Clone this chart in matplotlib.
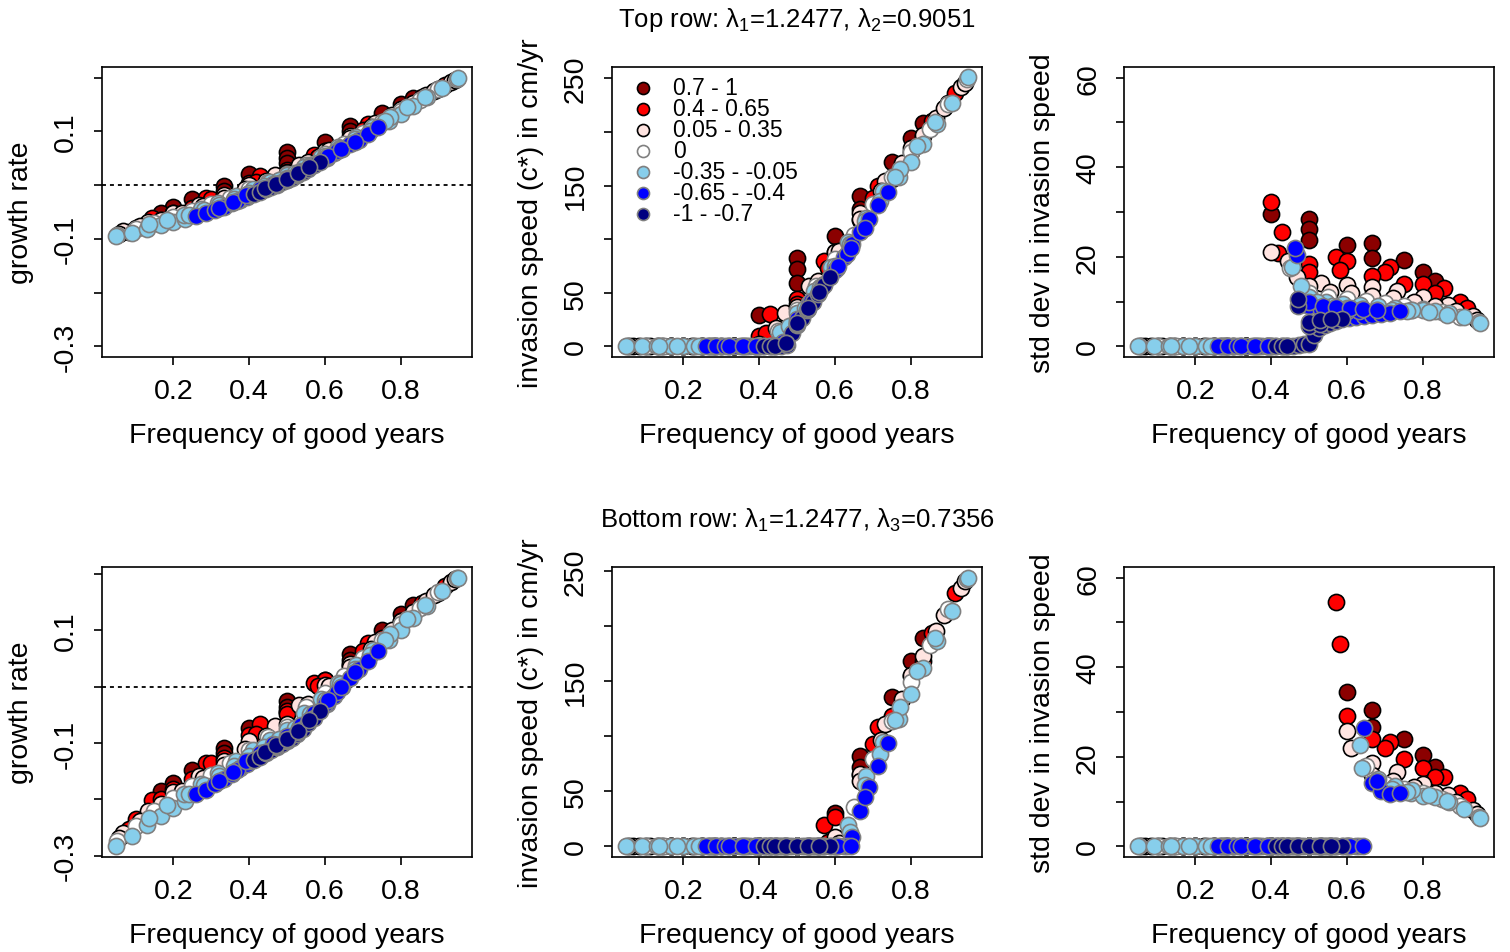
import matplotlib
matplotlib.use('Agg')
import matplotlib.pyplot as plt

plt.rcParams['font.family'] = ['Liberation Sans', 'DejaVu Sans']
plt.rcParams['mathtext.fontset'] = 'custom'
plt.rcParams['mathtext.rm'] = 'Liberation Sans'
plt.rcParams['mathtext.it'] = 'Liberation Sans:italic'

# each group: frequency of good years, then growth rate / speed / sd for top row (1) and bottom row (2)

# correlation 0.7 - 1
x_dr = [0.5, 0.333, 0.667, 0.25, 0.5, 0.75, 0.2, 0.4, 0.6, 0.8, 0.167, 0.333, 0.5, 0.667, 0.833]
gr1_dr = [0.062, -0.001, 0.110, -0.026, 0.051, 0.135, -0.040, 0.020, 0.081, 0.151, -0.051, -0.010, 0.041, 0.100, 0.163]
sp1_dr = [82, 0, 140, 0, 72, 172, 0, 29, 103, 194, 0, 0, 59, 128, 208]
sd1_dr = [28.5, 0, 23.0, 0, 26.3, 19.2, 0, 29.5, 22.6, 16.6, 0, 0, 23.7, 19.8, 14.6]
gr2_dr = [-0.026, -0.109, 0.057, -0.147, -0.036, 0.101, -0.171, -0.073, 0.012, 0.128, -0.185, -0.118, -0.045, 0.048, 0.145]
sp2_dr = [0, 0, 82, 0, 0, 136, 0, 0, 30, 168, 0, 0, 0, 72, 189]
sd2_dr = [0, 0, 30.4, 0, 0, 23.9, 0, 0, 34.5, 20.4, 0, 0, 0, 26.7, 17.7]

# correlation 0.4 - 0.65
x_rd = [0.143, 0.286, 0.429, 0.571, 0.714, 0.857,
        0.1, 0.2, 0.3, 0.4, 0.5, 0.6, 0.7, 0.8, 0.9,
        0.083, 0.167, 0.25, 0.333, 0.417, 0.5, 0.583, 0.667, 0.75, 0.833, 0.917]
gr1_rd = [-0.061, -0.024, 0.017, 0.057, 0.113, 0.164,
          -0.079, -0.051, -0.025, 0.004, 0.028, 0.064, 0.103, 0.139, 0.179,
          -0.087, -0.064, -0.042, -0.020, 0.005, 0.024, 0.052, 0.087, 0.117, 0.152, 0.186]
sp1_rd = [0, 0, 30, 80, 150, 210,
          0, 0, 0, 10, 44, 88, 138, 181, 227,
          0, 0, 0, 0, 12, 39, 73, 118, 156, 196, 236]
sd1_rd = [0, 0, 25.5, 20.0, 17.6, 13.1,
          0, 0, 0, 32.2, 18.3, 19.0, 16.5, 14.0, 9.8,
          0, 0, 0, 0, 20.8, 16.5, 17.0, 15.8, 14.0, 11.8, 8.5]
gr2_rd = [-0.201, -0.136, -0.067, 0.007, 0.077, 0.149,
          -0.235, -0.181, -0.136, -0.086, -0.043, 0.012, 0.063, 0.116, 0.166,
          -0.252, -0.200, -0.163, -0.127, -0.084, -0.048, 0.001, 0.039, 0.086, 0.127, 0.178]
sp2_rd = [0, 0, 0, 19, 108, 194,
          0, 0, 0, 0, 0, 27, 93, 155, 214,
          0, 0, 0, 0, 0, 0, 4, 65, 118, 168, 230]
sd2_rd = [0, 0, 0, 54.6, 23.2, 15.5,
          0, 0, 0, 0, 0, 29.1, 22.0, 17.5, 12.0,
          0, 0, 0, 0, 0, 0, 45.3, 24.0, 19.5, 15.5, 10.5]

# correlation 0.05 - 0.35
x_mr = [0.067, 0.133, 0.2, 0.267, 0.333, 0.4, 0.467, 0.533, 0.6, 0.667, 0.733, 0.8, 0.867, 0.933,
        0.056, 0.111, 0.167, 0.222, 0.278, 0.333, 0.389, 0.444, 0.5, 0.556, 0.611, 0.667, 0.722, 0.778, 0.833, 0.889, 0.944]
gr1_mr = [-0.086, -0.068, -0.052, -0.037, -0.019, 0.001, 0.018, 0.038, 0.064, 0.091, 0.115, 0.142, 0.167, 0.192,
          -0.091, -0.076, -0.064, -0.052, -0.039, -0.024, -0.008, 0.008, 0.023, 0.043, 0.065, 0.088, 0.109, 0.131, 0.153, 0.175, 0.196]
sp1_mr = [0, 0, 0, 0, 0, 2, 31, 56, 88, 124, 154, 185, 213, 242,
          0, 0, 0, 0, 0, 0, 0, 17, 37, 61, 89, 119, 145, 171, 197, 222, 246]
sd1_mr = [0, 0, 0, 0, 0, 21.1, 15.5, 14.2, 13.8, 13.2, 12.3, 11.0, 9.3, 6.8,
          0, 0, 0, 0, 0, 0, 0, 19.0, 13.5, 12.2, 11.8, 11.3, 10.7, 10.0, 9.0, 7.8, 5.9]
gr2_mr = [-0.259, -0.220, -0.187, -0.159, -0.131, -0.097, -0.069, -0.033, 0.002, 0.040, 0.079, 0.117, 0.151, 0.185,
          -0.269, -0.239, -0.208, -0.185, -0.162, -0.139, -0.111, -0.087, -0.066, -0.031, 0.001, 0.035, 0.067, 0.100, 0.132, 0.163, 0.190]
sp2_mr = [0, 0, 0, 0, 0, 0, 0, 0, 8, 66, 111, 156, 196, 235,
          0, 0, 0, 0, 0, 0, 0, 0, 0, 0, 3, 59, 97, 134, 173, 210, 241]
sd2_mr = [0, 0, 0, 0, 0, 0, 0, 0, 25.8, 18.5, 16.5, 14.0, 11.5, 8.0,
          0, 0, 0, 0, 0, 0, 0, 0, 0, 0, 22.0, 16.0, 14.5, 13.2, 11.8, 10.0, 7.2]

# correlation 0
x_wh = [0.05, 0.1, 0.15, 0.2, 0.25, 0.3, 0.35, 0.4, 0.45, 0.5, 0.55, 0.6, 0.65, 0.7, 0.75, 0.8, 0.85, 0.9, 0.95]
gr1_wh = [-0.092, -0.081, -0.070, -0.059, -0.048, -0.036, -0.023, -0.007, 0.006, 0.020, 0.038, 0.058, 0.077, 0.098, 0.118, 0.139, 0.158, 0.179, 0.198]
sp1_wh = [0, 0, 0, 0, 0, 0, 0, 0, 14, 34, 56, 81, 104, 133, 158, 181, 203, 226, 249]
sd1_wh = [0, 0, 0, 0, 0, 0, 0, 0, 17.5, 12.0, 11.0, 10.6, 10.2, 9.7, 9.1, 8.4, 7.6, 6.6, 5.4]
gr2_wh = [-0.274, -0.247, -0.220, -0.198, -0.177, -0.157, -0.135, -0.112, -0.090, -0.072, -0.037, -0.012, 0.019, 0.051, 0.082, 0.111, 0.139, 0.168, 0.192]
sp2_wh = [0, 0, 0, 0, 0, 0, 0, 0, 0, 0, 0, 0, 36, 79, 114, 149, 183, 216, 243]
sd2_wh = [0, 0, 0, 0, 0, 0, 0, 0, 0, 0, 0, 0, 18.0, 14.0, 12.8, 11.8, 10.6, 9.0, 6.6]

# correlation -0.35 - -0.05
x_sb = [0.048, 0.091, 0.130, 0.167, 0.2, 0.231, 0.769, 0.8, 0.833, 0.870, 0.909, 0.952,
        0.136, 0.182, 0.227, 0.273, 0.318, 0.364, 0.409, 0.455, 0.5, 0.545, 0.591, 0.636, 0.682, 0.727, 0.773, 0.818, 0.864,
        0.24, 0.28, 0.32, 0.36, 0.4, 0.44, 0.48, 0.52, 0.56, 0.6, 0.64, 0.68, 0.72, 0.76]
gr1_sb = [-0.094, -0.089, -0.081, -0.075, -0.069, -0.063, 0.119, 0.133, 0.147, 0.164, 0.181, 0.199,
          -0.073, -0.065, -0.055, -0.045, -0.034, -0.021, -0.007, 0.005, 0.018, 0.034, 0.052, 0.071, 0.089, 0.108, 0.126, 0.145, 0.164,
          -0.056, -0.047, -0.037, -0.026, -0.014, -0.002, 0.009, 0.022, 0.038, 0.054, 0.070, 0.086, 0.101, 0.119]
sp1_sb = [0, 0, 0, 0, 0, 0, 158, 172, 189, 207, 227, 251,
          0, 0, 0, 0, 0, 0, 0, 13, 31, 52, 74, 97, 120, 145, 165, 187, 209,
          0, 0, 0, 0, 0, 0, 19, 36, 55, 75, 95, 117, 136, 158]
sd1_sb = [0, 0, 0, 0, 0, 0, 8.1, 8.1, 7.9, 7.5, 6.6, 5.1,
          0, 0, 0, 0, 0, 0, 0, 17.6, 11.0, 9.8, 9.5, 9.2, 8.9, 8.6, 8.1, 7.6, 7.0,
          0, 0, 0, 0, 0, 0, 13.5, 10.0, 9.0, 8.6, 8.4, 8.2, 8.0, 7.8]
gr2_sb = [-0.283, -0.265, -0.246, -0.230, -0.216, -0.203, 0.083, 0.101, 0.122, 0.142, 0.169, 0.193,
          -0.232, -0.209, -0.190, -0.172, -0.154, -0.132, -0.113, -0.094, -0.077, -0.047, -0.022, 0.007, 0.038, 0.065, 0.094, 0.120, 0.144,
          -0.190, -0.175, -0.159, -0.140, -0.123, -0.107, -0.092, -0.073, -0.048, -0.023, 0.004, 0.032, 0.056, 0.083]
sp2_sb = [0, 0, 0, 0, 0, 0, 116, 138, 162, 187, 214, 244,
          0, 0, 0, 0, 0, 0, 0, 0, 0, 0, 0, 19, 64, 95, 127, 159, 189,
          0, 0, 0, 0, 0, 0, 0, 0, 0, 0, 13, 56, 84, 115]
sd2_sb = [0, 0, 0, 0, 0, 0, 12.0, 11.3, 11.0, 9.8, 8.3, 6.4,
          0, 0, 0, 0, 0, 0, 0, 0, 0, 0, 0, 22.6, 15.0, 13.5, 12.5, 11.5, 10.2,
          0, 0, 0, 0, 0, 0, 0, 0, 0, 0, 17.5, 14.0, 12.8, 12.2]

# correlation -0.65 - -0.4
x_bl = [0.259, 0.286, 0.310, 0.333, 0.355, 0.375, 0.394,
        0.606, 0.625, 0.645, 0.667, 0.690, 0.714, 0.741,
        0.367, 0.4, 0.433, 0.467, 0.5, 0.533, 0.567, 0.6, 0.633,
        0.321, 0.357, 0.393, 0.429, 0.464, 0.5, 0.536, 0.571, 0.607, 0.643, 0.679]
gr1_bl = [-0.058, -0.052, -0.046, -0.040, -0.034, -0.028, -0.022,
          0.051, 0.059, 0.067, 0.076, 0.085, 0.095, 0.108,
          -0.030, -0.018, -0.008, 0.002, 0.012, 0.025, 0.037, 0.050, 0.063,
          -0.042, -0.032, -0.019, -0.008, 0.002, 0.013, 0.027, 0.040, 0.054, 0.067, 0.081]
sp1_bl = [0, 0, 0, 0, 0, 0, 0,
          73, 83, 95, 107, 119, 132, 144,
          0, 0, 0, 4, 23, 40, 55, 71, 86,
          0, 0, 0, 0, 4, 25, 42, 58, 75, 92, 110]
sd1_bl = [0, 0, 0, 0, 0, 0, 0,
          6.3, 6.5, 6.8, 7.0, 7.3, 7.5, 7.9,
          0, 0, 0, 20.4, 9.0, 8.2, 8.0, 7.9, 7.8,
          0, 0, 0, 0, 21.9, 10.0, 9.0, 8.7, 8.5, 8.3, 8.0]
gr2_bl = [-0.191, -0.183, -0.173, -0.164, -0.155, -0.145, -0.137,
          -0.030, -0.016, -0.001, 0.016, 0.032, 0.045, 0.064,
          -0.147, -0.132, -0.118, -0.103, -0.091, -0.073, -0.053, -0.031, -0.009,
          -0.167, -0.151, -0.132, -0.117, -0.101, -0.088, -0.068, -0.047, -0.024, 0.000, 0.026]
sp2_bl = [0, 0, 0, 0, 0, 0, 0,
          0, 0, 8, 32, 54, 73, 94,
          0, 0, 0, 0, 0, 0, 0, 0, 0,
          0, 0, 0, 0, 0, 0, 0, 0, 0, 0, 45]
sd2_bl = [0, 0, 0, 0, 0, 0, 0,
          0, 0, 26.5, 14.2, 12.4, 11.6, 11.8,
          0, 0, 0, 0, 0, 0, 0, 0, 0,
          0, 0, 0, 0, 0, 0, 0, 0, 0, 0, 14.6]

# correlation -1 - -0.7
x_nv = [0.412, 0.429, 0.444, 0.459, 0.474, 0.487, 0.5,
        0.513, 0.526, 0.541, 0.556, 0.571, 0.588,
        0.472, 0.5, 0.528,
        0.441, 0.471, 0.5, 0.529, 0.559]
gr1_nv = [-0.017, -0.012, -0.007, -0.003, 0.001, 0.005, 0.009,
          0.014, 0.019, 0.025, 0.031, 0.037, 0.044,
          0.002, 0.010, 0.021,
          -0.006, 0.002, 0.011, 0.022, 0.033]
sp1_nv = [0, 0, 0, 0, 1.2, 12, 19.8,
          26.5, 33.5, 41, 49, 57, 65,
          3, 21, 35,
          0, 3.5, 21.5, 36, 51]
sd1_nv = [0, 0, 0, 0, 0.3, 0.4, 0.6,
          2.5, 4.0, 4.8, 5.3, 5.7, 6.0,
          9.0, 4.5, 5.0,
          0, 10.5, 5.5, 5.8, 6.2]
gr2_nv = [-0.130, -0.124, -0.118, -0.112, -0.107, -0.102, -0.097,
          -0.091, -0.084, -0.075, -0.065, -0.055, -0.043,
          -0.105, -0.095, -0.080,
          -0.116, -0.104, -0.093, -0.078, -0.059]
sp2_nv = [0, 0, 0, 0, 0, 0, 0, 0, 0, 0, 0, 0, 0, 0, 0, 0, 0, 0, 0, 0, 0]
sd2_nv = [0, 0, 0, 0, 0, 0, 0, 0, 0, 0, 0, 0, 0, 0, 0, 0, 0, 0, 0, 0, 0]

labels = ['0.7 - 1', '0.4 - 0.65', '0.05 - 0.35', '0', '-0.35 - -0.05', '-0.65 - -0.4', '-1 - -0.7']
fills = ['darkred', 'red', 'mistyrose', 'white', 'skyblue', 'blue', 'navy']
edges = ['black', 'black', 'black', 'gray', 'gray', 'gray', 'gray']

groups = [
    (x_dr, [gr1_dr, sp1_dr, sd1_dr, gr2_dr, sp2_dr, sd2_dr]),
    (x_rd, [gr1_rd, sp1_rd, sd1_rd, gr2_rd, sp2_rd, sd2_rd]),
    (x_mr, [gr1_mr, sp1_mr, sd1_mr, gr2_mr, sp2_mr, sd2_mr]),
    (x_wh, [gr1_wh, sp1_wh, sd1_wh, gr2_wh, sp2_wh, sd2_wh]),
    (x_sb, [gr1_sb, sp1_sb, sd1_sb, gr2_sb, sp2_sb, sd2_sb]),
    (x_bl, [gr1_bl, sp1_bl, sd1_bl, gr2_bl, sp2_bl, sd2_bl]),
    (x_nv, [gr1_nv, sp1_nv, sd1_nv, gr2_nv, sp2_nv, sd2_nv]),
]

ylabels = ['growth rate', 'invasion speed (c*) in cm/yr', 'std dev in invasion speed']
ylims = [(-0.32, 0.22), (-10.0, 260.6), (-2.4, 62.4), (-0.302, 0.212), (-9.76, 253.8), (-2.4, 62.4)]
yticks = [[-0.3, -0.2, -0.1, 0.0, 0.1, 0.2], [0, 50, 100, 150, 200, 250], [0, 10, 20, 30, 40, 50, 60]]
ytlabs = [['-0.3', '', '-0.1', '', '0.1', ''], ['0', '50', '', '150', '', '250'], ['0', '', '20', '', '40', '', '60']]

W, H = 1510, 953
fig = plt.figure(figsize=(W / 100, H / 100), dpi=100)
lefts = [102, 612, 1124]
bottoms = [358, 858]

for r in range(2):
    for c in range(3):
        k = 3 * r + c
        ax = fig.add_axes([lefts[c] / W, 1 - bottoms[r] / H, 370 / W, 290 / H])
        for (x, ys), fc, ec in zip(groups, fills, edges):
            ax.scatter(x, ys[k], s=135, c=fc, edgecolors=ec, linewidths=1.2, zorder=3)
        if c == 0:
            ax.axhline(0, color='black', lw=1.3, ls=(0, (2.2, 2.2)), zorder=1)
        ax.set_xlim(0.0114, 0.9886)
        ax.set_ylim(*ylims[k])
        ax.set_xticks([0.2, 0.4, 0.6, 0.8])
        ax.set_xticklabels(['0.2', '0.4', '0.6', '0.8'])
        ax.set_yticks(yticks[c])
        ax.set_yticklabels(ytlabs[c], rotation=90, va='center')
        ax.tick_params(labelsize=20.5, length=5.5, width=1.2)
        ax.tick_params(axis='x', pad=9.5)
        ax.tick_params(axis='y', pad=11)
        for sp in ax.spines.values():
            sp.set_linewidth(1.2)
        ax.set_xlabel('Frequency of good years', fontsize=20.5, va='center')
        ax.xaxis.set_label_coords(0.5, -0.268)
        ax.set_ylabel(ylabels[c], fontsize=20.5, va='center')
        ax.yaxis.set_label_coords(-0.22, 0.5)

        # legend only in the top middle panel
        if k == 1:
            for i in range(7):
                yy = 0.9276 - i * 0.0724
                ax.scatter([0.0838], [yy], s=75, c=fills[i], edgecolors=edges[i],
                           linewidths=1.2, transform=ax.transAxes, zorder=4)
                ax.text(0.165, yy, labels[i], transform=ax.transAxes, va='center', fontsize=16.5)

fig.text(797 / W, 1 - 20 / H, r'Top row: λ$_1$=1.2477, λ$_2$=0.9051', ha='center', va='center', fontsize=18.5)
fig.text(797 / W, 1 - 520 / H, r'Bottom row: λ$_1$=1.2477, λ$_3$=0.7356', ha='center', va='center', fontsize=18.5)

fig.savefig('out.png', dpi=100)
